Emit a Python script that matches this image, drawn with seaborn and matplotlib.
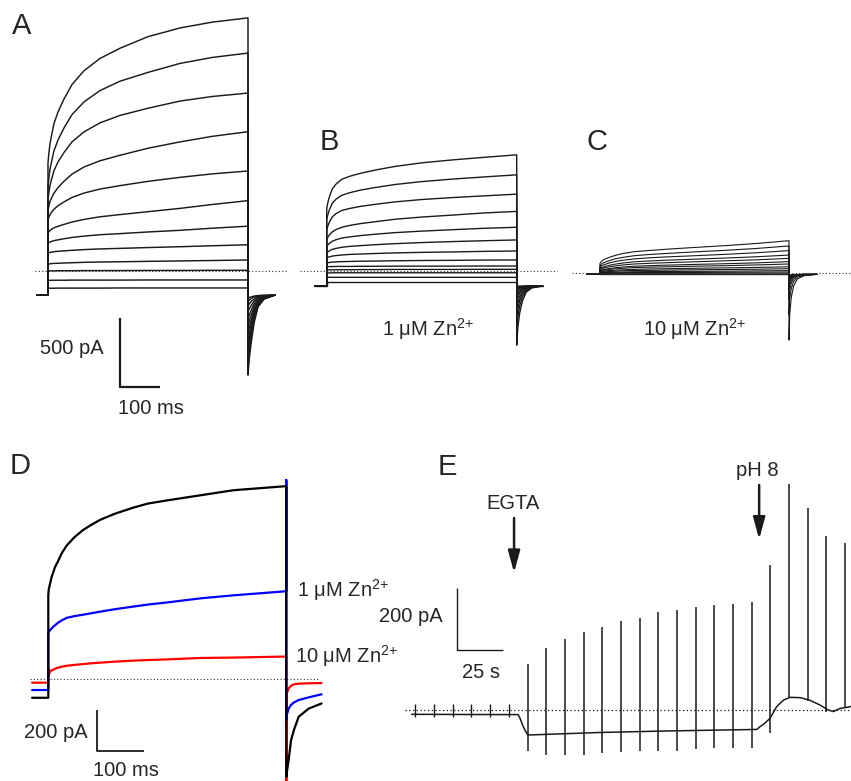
import numpy as np
import pandas as pd
import seaborn as sns
import matplotlib.pyplot as plt

sns.set_theme(style="white")
plt.rcParams['font.family'] = ['Liberation Sans', 'DejaVu Sans']
plt.rcParams['mathtext.fontset'] = 'custom'
plt.rcParams['mathtext.rm'] = 'Liberation Sans'
plt.rcParams['mathtext.it'] = 'Liberation Sans:italic'
plt.rcParams['mathtext.bf'] = 'Liberation Sans:bold'
plt.rcParams['mathtext.default'] = 'regular'

# ---------------- data (ms / pA) ----------------
# sample times of the depolarising step, shared by A, B and C
step_time = [0, 2, 5, 9, 15, 25, 40, 60, 90, 130, 180, 250, 330, 410, 500]

# A: control family of sweeps
a_hold = -175
a_sweeps = [
    [785, 848, 922, 985, 1069, 1153, 1247, 1352, 1452, 1541, 1615, 1699, 1762, 1804, 1835],
    [610, 668, 736, 794, 872, 950, 1037, 1134, 1226, 1308, 1376, 1440, 1505, 1548, 1580],
    [520, 566, 620, 666, 728, 790, 859, 936, 1009, 1074, 1128, 1180, 1232, 1265, 1290],
    [440, 469, 503, 531, 565, 605, 651, 702, 754, 799, 839, 890, 936, 976, 1010],
    [370, 388, 409, 427, 448, 473, 501, 533, 565, 594, 619, 650, 679, 704, 725],
    [275, 284, 294, 303, 313, 324, 338, 355, 374, 393, 409, 430, 454, 482, 510],
    [200, 205, 210, 215, 220, 226, 234, 243, 253, 263, 271, 283, 295, 310, 325],
    [130, 132, 135, 137, 140, 143, 146, 150, 155, 160, 164, 170, 176, 183, 190],
    [50, 51, 52, 54, 55, 56, 58, 60, 63, 65, 67, 70, 73, 76, 80],
    [0, 0, 1, 1, 1, 2, 2, 2, 3, 3, 3, 4, 4, 5, 5],
    [-68, -68, -68, -67, -67, -67, -67, -66, -66, -66, -66, -65, -65, -65, -65],
    [-125, -125, -125, -125, -125, -124, -124, -124, -124, -124, -123, -123, -123, -123, -123],
]
a_tail_time = [500, 503, 508, 515, 525, 540, 567]
a_tails = [
    [-755, -640, -520, -380, -260, -205, -175],
    [-705, -595, -490, -360, -255, -200, -175],
    [-645, -550, -460, -340, -245, -200, -175],
    [-590, -505, -425, -320, -235, -195, -175],
    [-530, -460, -385, -300, -230, -195, -175],
    [-470, -410, -355, -280, -220, -190, -175],
    [-415, -365, -320, -260, -210, -185, -175],
    [-355, -320, -285, -240, -200, -185, -175],
    [-295, -275, -250, -220, -195, -180, -175],
    [-255, -240, -220, -205, -185, -180, -175],
    [-220, -210, -200, -190, -180, -177, -175],
    [-195, -192, -188, -182, -178, -176, -175],
]

# B: 1 uM Zn2+
b_hold = -111
b_sweeps = [
    [450, 481, 516, 551, 594, 629, 663, 684, 707, 731, 756, 782, 803, 821, 840],
    [370, 396, 425, 455, 490, 520, 547, 565, 585, 604, 625, 646, 664, 679, 695],
    [295, 316, 339, 363, 391, 415, 437, 451, 467, 482, 499, 516, 530, 542, 555],
    [225, 237, 252, 266, 282, 299, 315, 328, 342, 356, 373, 389, 403, 418, 430],
    [175, 183, 193, 203, 214, 225, 237, 245, 255, 265, 276, 287, 297, 307, 315],
    [128, 134, 140, 147, 155, 162, 170, 176, 182, 189, 196, 204, 211, 217, 223],
    [92, 95, 99, 102, 106, 110, 114, 118, 121, 125, 129, 133, 136, 140, 143],
    [56, 57, 59, 60, 62, 64, 66, 67, 69, 70, 72, 74, 75, 77, 78],
    [29, 29, 30, 30, 30, 31, 31, 31, 32, 32, 33, 33, 33, 34, 34],
    [5, 5, 6, 6, 6, 7, 7, 7, 8, 8, 9, 9, 9, 10, 10],
    [-16, -16, -16, -16, -15, -15, -15, -15, -15, -15, -15, -15, -15, -15, -15],
    [-48, -48, -48, -48, -48, -48, -48, -48, -48, -48, -48, -48, -48, -48, -48],
    [-84, -84, -84, -84, -84, -84, -84, -84, -84, -84, -84, -84, -84, -84, -84],
]
b_tail_time = [500, 503, 508, 515, 525, 540, 568]
b_tails = [
    [-540, -410, -305, -220, -155, -125, -111],
    [-430, -335, -255, -190, -145, -120, -111],
    [-345, -275, -215, -170, -135, -118, -111],
    [-285, -235, -190, -155, -128, -116, -111],
    [-235, -195, -165, -140, -123, -115, -111],
    [-200, -170, -150, -133, -120, -114, -111],
    [-170, -152, -137, -126, -117, -113, -111],
    [-147, -136, -127, -120, -115, -112, -111],
    [-133, -126, -121, -117, -113, -112, -111],
    [-125, -121, -117, -115, -112, -111, -111],
    [-118, -116, -114, -113, -112, -111, -111],
    [-118, -116, -114, -113, -112, -111, -111],
    [-111, -111, -111, -111, -111, -111, -111],
]

# C: 10 uM Zn2+
c_hold = -12
c_sweeps = [
    [68, 76, 84, 93, 101, 112, 125, 139, 152, 161, 171, 183, 196, 211, 232],
    [49, 56, 64, 71, 78, 88, 100, 111, 123, 132, 140, 151, 162, 175, 194],
    [38, 44, 50, 56, 62, 71, 81, 90, 100, 108, 115, 123, 133, 144, 160],
    [27, 32, 37, 42, 47, 54, 62, 70, 79, 85, 91, 98, 106, 115, 128],
    [20, 24, 28, 33, 37, 43, 49, 56, 63, 68, 73, 79, 86, 93, 104],
    [12, 15, 19, 22, 26, 30, 36, 41, 47, 51, 55, 60, 65, 71, 80],
    [9, 12, 14, 17, 20, 24, 28, 32, 37, 40, 43, 47, 51, 56, 63],
    [5, 7, 9, 11, 13, 15, 18, 21, 24, 27, 29, 32, 35, 38, 43],
    [2, 3, 5, 6, 7, 9, 11, 14, 16, 17, 19, 21, 23, 25, 29],
    [-2, -1, 0, 1, 1, 2, 4, 5, 7, 8, 9, 10, 11, 13, 15],
    [-4, -4, -3, -3, -2, -2, -1, 0, 1, 1, 2, 2, 3, 4, 5],
    [-6, -6, -6, -6, -6, -6, -5, -5, -5, -5, -5, -5, -4, -4, -4],
    [-14, -14, -14, -14, -14, -14, -14, -14, -14, -14, -14, -14, -14, -14, -14],
]
c_tail_time = [500, 502, 506, 512, 522, 540, 574]
c_tails = [
    [-488, -298, -179, -98, -45, -22, -12],
    [-307, -189, -115, -65, -33, -18, -12],
    [-198, -124, -77, -45, -25, -16, -12],
    [-140, -89, -57, -35, -21, -15, -12],
    [-104, -67, -44, -29, -18, -14, -12],
    [-82, -54, -37, -25, -17, -13, -12],
    [-67, -45, -31, -22, -16, -13, -12],
    [-53, -37, -26, -19, -15, -13, -12],
    [-46, -32, -24, -18, -14, -13, -12],
    [-38, -28, -21, -17, -14, -13, -12],
    [-31, -23, -19, -15, -13, -12, -12],
    [-24, -19, -16, -14, -13, -12, -12],
    [-20, -17, -15, -13, -13, -12, -12],
]

# D: superimposed sweeps, control vs zinc
d_labels = ['10 uM Zn', '1 uM Zn', 'control']
d_colors = {'control': '#000000', '1 uM Zn': '#0000ff', '10 uM Zn': '#ff0000'}
d_hold = {'control': -92, '1 uM Zn': -54, '10 uM Zn': -18}
d_time = [0, 1, 4, 7, 10, 14, 20, 28, 39, 55, 73, 90, 109, 140, 179, 210, 249, 319, 389, 500]
d_sweeps = {
    'control': [410, 440, 470, 500, 520, 548, 575, 615, 655, 695, 730, 755, 780, 810, 840,
                860, 875, 900, 925, 945],
    '1 uM Zn': [225, 230, 240, 248, 255, 263, 275, 287, 300, 308, 315, 322, 330, 342, 355,
                365, 375, 395, 410, 430],
    '10 uM Zn': [55, 20, 38, 42, 45, 50, 55, 60, 65, 69, 73, 77, 80, 85, 90,
                 93, 96, 103, 105, 110],
}
d_tail_time = [500, 500, 501, 505, 510, 516, 526, 547, 574]
d_tails = {
    'control': [945, -480, -460, -395, -300, -250, -185, -145, -120],
    '1 uM Zn': [975, -200, -175, -145, -127, -115, -103, -90, -75],
    '10 uM Zn': [110, -540, -70, -46, -33, -26, -23, -21, -20],
}

# E: holding current (s / pA), test pulses every 10 s
e_time = [0, 57, 58, 59.7, 61.6, 62.4, 100, 136, 184.7, 186.5, 189, 191.8, 195.4,
          199, 202.5, 208, 213, 218.6, 223, 225.7, 229.3, 235]
e_base = [-14, -15, -27, -54, -76, -81, -73, -68, -63, -54, -43, -27, 11,
          32, 41, 40, 32, 16, 0, -5, 5, 11]
e_tick_t = [2, 12, 22, 32, 42, 52]
e_spike_t = [62, 72, 82, 92, 102, 112, 122, 132, 142, 152, 162, 172, 182,
             192, 202, 212, 222, 232]
e_spike_top = [149, 200, 230, 254, 270, 288, 299, 317, 324, 335, 340, 343, 349,
               470, 731, 655, 564, 542]
e_spike_bottom = [-132, -146, -146, -146, -140, -137, -132, -132, -132, -127, -124, -124, -124,
                  -75, 38, 30, -5, 8]

# ---------------- figure ----------------
W, H = 851, 781
fig = plt.figure(figsize=(W / 100, H / 100), dpi=100)


def panel(box, x0, sx, y0, ky):
    # box in pixels (left, top, right, bottom); x0,y0 = pixel of data origin
    l, t, r, b = box
    ax = fig.add_axes([l / W, 1 - b / H, (r - l) / W, (b - t) / H])
    ax.set_xlim((l - x0) / sx, (r - x0) / sx)
    ax.set_ylim((y0 - b) * ky, (y0 - t) * ky)
    ax.axis('off')
    return ax


def sweeps_frame(pre_t, hold, times, sweeps, tail_t, tails):
    rows = []
    for i, (sw, tl) in enumerate(zip(sweeps, tails)):
        tt = [pre_t, 0] + list(times) + list(tail_t)
        yy = [hold, hold] + list(sw) + list(tl)
        rows += [(i, t, y) for t, y in zip(tt, yy)]
    return pd.DataFrame(rows, columns=['sweep', 'ms', 'pA'])


dots = (0, (1, 2))

axA = panel((0, 0, 320, 430), 48, 0.4, 271, 7.25)
dfA = sweeps_frame(-27, a_hold, step_time, a_sweeps, a_tail_time, a_tails)
sns.lineplot(data=dfA, x='ms', y='pA', units='sweep', estimator=None, sort=False,
             color='k', lw=1.05, ax=axA, legend=False)
axA.hlines(0, -32, 600, colors='#333333', linestyles=dots, lw=0.8)
axA.plot([180, 180, 280], [-341, -841, -841], color='k', lw=1.6, solid_capstyle='butt')

axB = panel((300, 100, 570, 400), 326.7, 0.38, 270.7, 7.25)
dfB = sweeps_frame(-31, b_hold, step_time, b_sweeps, b_tail_time, b_tails)
sns.lineplot(data=dfB, x='ms', y='pA', units='sweep', estimator=None, sort=False,
             color='k', lw=1.0, ax=axB, legend=False)
axB.hlines(0, -70, 606, colors='#333333', linestyles=dots, lw=0.8)

axC = panel((570, 100, 851, 400), 600, 0.378, 272.7, 7.25)
dfC = sweeps_frame(-34, c_hold, step_time, c_sweeps, c_tail_time, c_tails)
sns.lineplot(data=dfC, x='ms', y='pA', units='sweep', estimator=None, sort=False,
             color='k', lw=0.8, ax=axC, legend=False)
axC.hlines(0, -74, 664, colors='#333333', linestyles=dots, lw=0.8)

axD = panel((0, 440, 400, 781), 48.3, 0.476, 679, 4.9)
rows = []
for lab in d_labels:
    tt = [-34, 0] + d_time + d_tail_time
    yy = [d_hold[lab], d_hold[lab]] + d_sweeps[lab] + d_tails[lab]
    rows += [(lab, t, y) for t, y in zip(tt, yy)]
dfD = pd.DataFrame(rows, columns=['cond', 'ms', 'pA'])
axD.hlines(0, -38, 571, colors='#333333', linestyles=dots, lw=0.8)
sns.lineplot(data=dfD, x='ms', y='pA', hue='cond', hue_order=d_labels, palette=d_colors,
             units='cond', estimator=None, sort=False, lw=1.6, ax=axD, legend=False)
axD.plot([101.7, 101.7, 201.7], [-151, -351, -351], color='k', lw=1.3, solid_capstyle='butt')

axE = panel((380, 440, 851, 781), 411.7, 1.868, 710, 3.24)
axE.hlines(0, -3.6, 236, colors='#111111', linestyles=dots, lw=0.9)
sns.lineplot(x=e_time, y=e_base, sort=False, estimator=None, color='k', lw=1.1, ax=axE)
axE.vlines(e_tick_t, -22, 19, colors='k', lw=1.0)
axE.vlines(e_spike_t, e_spike_bottom, e_spike_top, colors='k', lw=1.1)
axE.plot([24.1, 24.1, 49.1], [394, 194, 194], color='k', lw=1.0, solid_capstyle='butt')
arrow = dict(arrowstyle='-|>,head_width=0.3,head_length=1.1', lw=1.8, color='k',
             shrinkA=0, shrinkB=0)
axE.annotate('', xy=(54.8, 445), xytext=(54.8, 622), arrowprops=arrow)
axE.annotate('', xy=(186, 553), xytext=(186, 729), arrowprops=arrow)


# ---------------- text ----------------
def label(x, y, s, size=14.5, ha='left'):
    fig.text(x / W, 1 - y / H, s, fontsize=size, ha=ha, va='center')


zn = 'Zn$^{2{+}}$'
label(12, 26, 'A', 21)
label(320, 142, 'B', 21)
label(587, 142, 'C', 21)
label(10, 466, 'D', 21)
label(438, 467, 'E', 21)
label(104, 349, '500 pA', ha='right')
label(151, 408, '100 ms', ha='center')
label(382, 329, '1 μM ' + zn)
label(643, 329, '10 μM ' + zn)
label(297, 590, '1 μM ' + zn)
label(295, 656, '10 μM ' + zn)
label(88, 732, '200 pA', ha='right')
label(126, 770, '100 ms', ha='center')
label(443, 616, '200 pA', ha='right')
label(481, 672, '25 s', ha='center')
label(513, 503, 'EGTA', ha='center')
label(757, 470, 'pH 8', ha='center')

fig.savefig('out.png', dpi=100)
